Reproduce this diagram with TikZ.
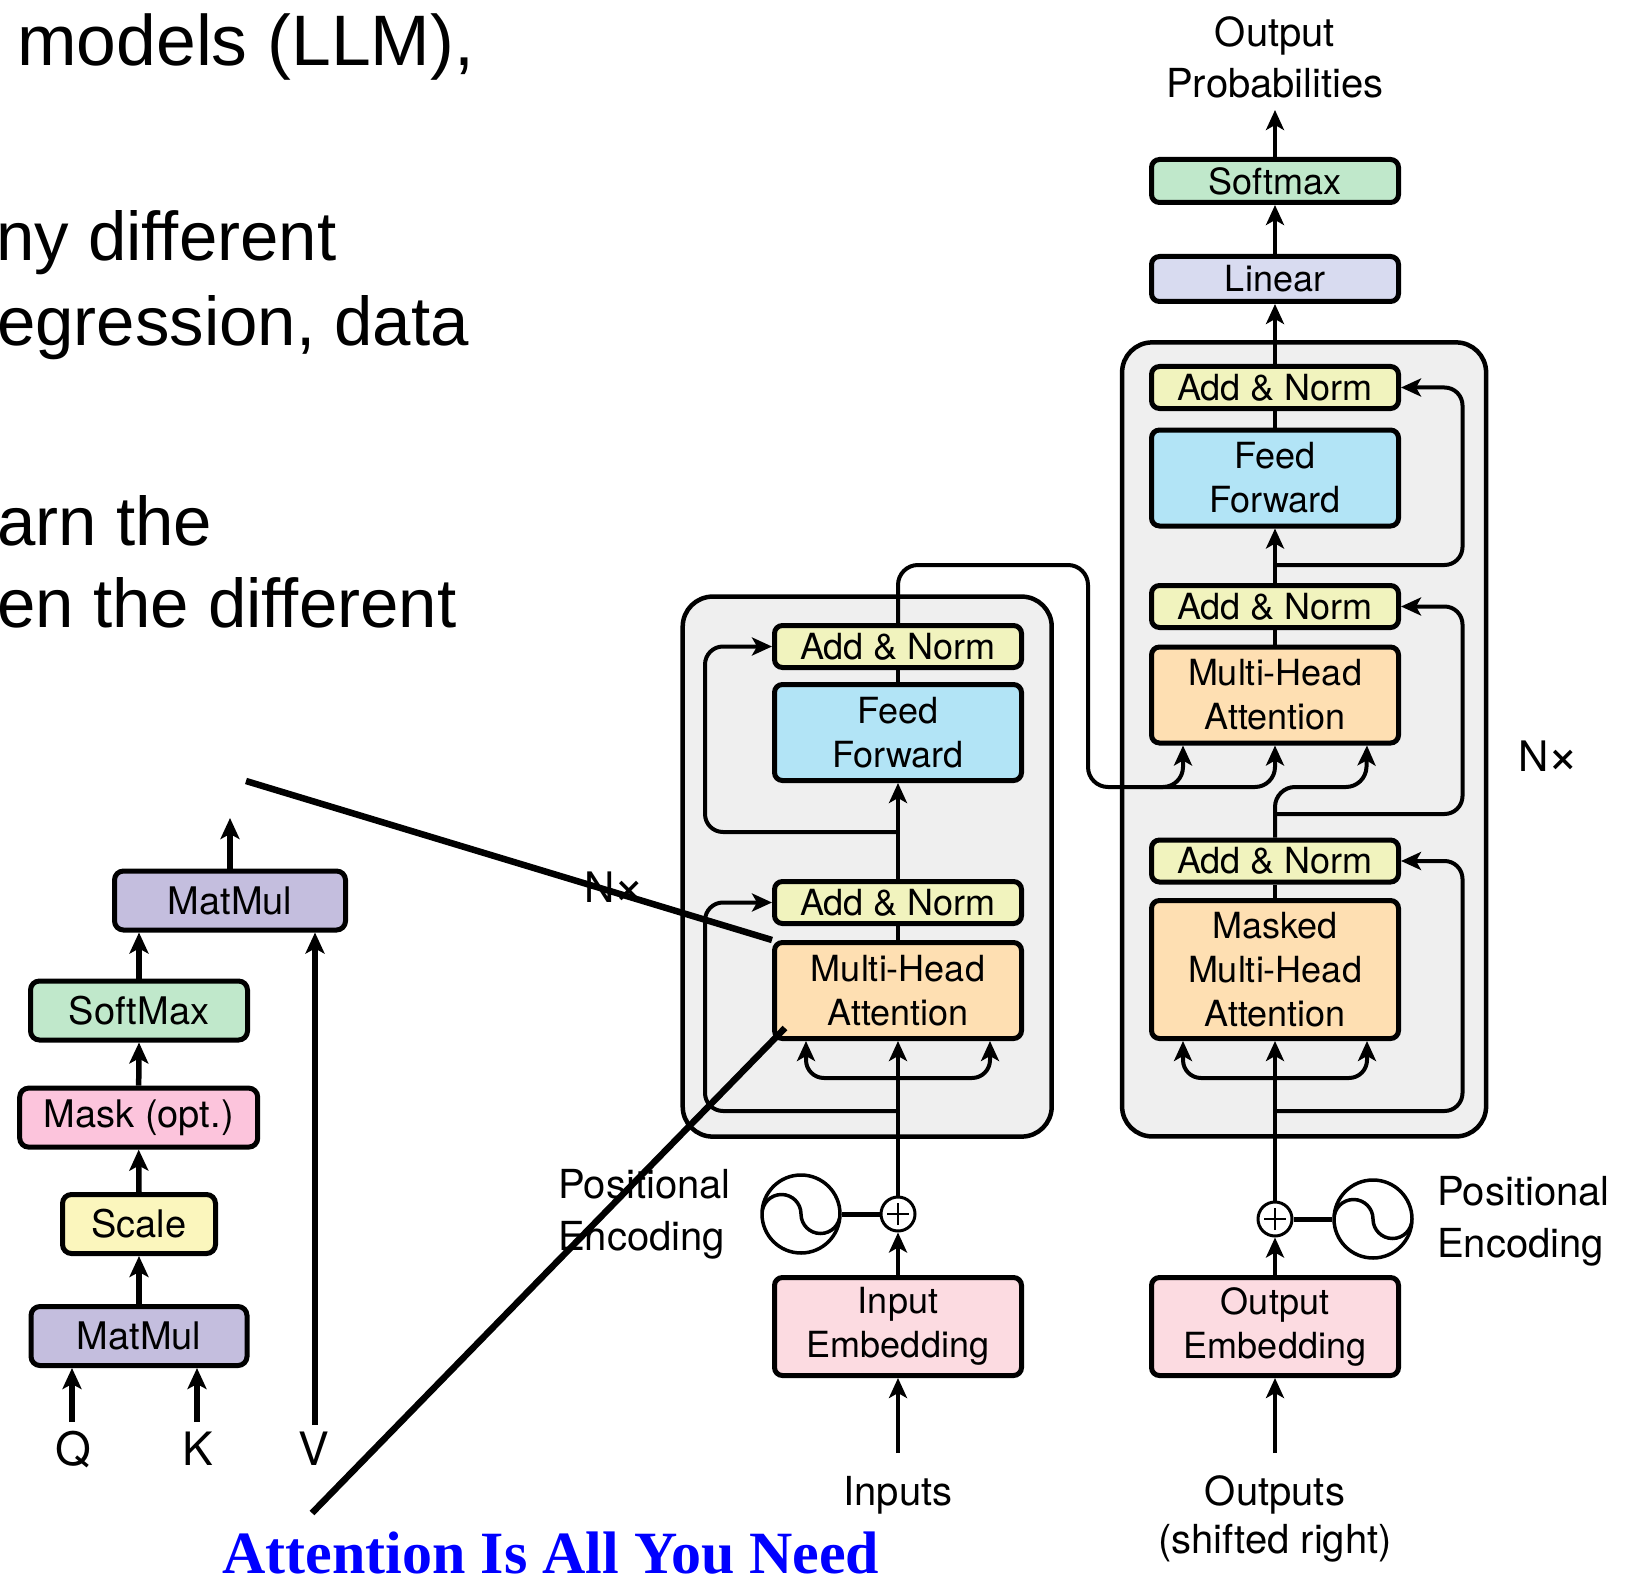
\documentclass[tikz,border=0pt]{standalone}
\usepackage{fontspec}
\setmainfont{Liberation Sans}
\newfontfamily\heros{TeX Gyre Heros}
\newfontfamily\titlefont{Liberation Serif}
\usetikzlibrary{arrows.meta,calc}

\definecolor{anC}{RGB}{241,243,190}
\definecolor{ffC}{RGB}{178,228,246}
\definecolor{mhaC}{RGB}{254,223,178}
\definecolor{embC}{RGB}{252,219,225}
\definecolor{linC}{RGB}{216,219,240}
\definecolor{smC}{RGB}{192,232,203}
\definecolor{stackC}{RGB}{239,239,239}
\definecolor{mmC}{RGB}{196,190,222}
\definecolor{maskC}{RGB}{252,196,220}
\definecolor{scaleC}{RGB}{251,246,189}
\definecolor{titleC}{RGB}{0,0,255}

% repeat-count label: N followed by a multiplication sign
\newcommand{\repN}{N\kern-1pt\raisebox{-2pt}{\fontsize{54}{54}\selectfont ×}}

\tikzset{
  blk/.style={draw, line width=5pt, rounded corners=8pt, inner sep=0pt, align=center,
    minimum width=247pt, font=\heros\fontsize{36}{44}\selectfont},
  anbox/.style={blk, fill=anC, minimum height=42pt},
  ffbox/.style={blk, fill=ffC, minimum height=96pt},
  mhabox/.style={blk, fill=mhaC, minimum height=96pt},
  embbox/.style={blk, fill=embC, minimum height=98pt},
  lbox/.style={draw, line width=5pt, rounded corners=9pt, inner sep=0pt,
    minimum height=59pt, font=\heros\fontsize{38}{44}\selectfont},
  stackbox/.style={draw, line width=4.5pt, rounded corners=30pt, fill=stackC},
  wire/.style={line width=4pt},
  arr/.style={wire, -{Stealth[length=20pt, width=18pt, inset=5pt]}},
  larr/.style={line width=5.5pt, -{Stealth[length=21pt, width=19pt, inset=5pt]}},
  curvy/.style={rounded corners=18pt},
  lbl/.style={font=\heros\fontsize{40}{48}\selectfont, inner sep=0pt},
  slide/.style={font=\fontsize{69}{84}\selectfont, inner sep=0pt, anchor=base west},
  pointer/.style={line width=6.5pt},
  plusnode/.style={circle, draw, line width=3pt, minimum size=34pt, inner sep=0pt, fill=white,
    path picture={\draw[line width=2.5pt]
      ([xshift=-11pt]path picture bounding box.center) -- ([xshift=11pt]path picture bounding box.center)
      ([yshift=-11pt]path picture bounding box.center) -- ([yshift=11pt]path picture bounding box.center);}},
  sinenode/.style={circle, draw, line width=3.5pt, minimum size=78pt, inner sep=0pt, fill=white,
    path picture={\draw[line width=3.5pt]
      ([xshift=-39pt]path picture bounding box.center)
      arc[start angle=180, end angle=0, radius=19.5pt]
      arc[start angle=180, end angle=360, radius=19.5pt];}},
}

\begin{document}
\begin{tikzpicture}[x=1pt, y=-1pt]
\useasboundingbox (0,0) rectangle (1641,1578);

% slide text behind the figure
\node[slide, font=\fontsize{71.5}{84}\selectfont] (t1) at (17,66) {models (LLM),};
\node[slide] (t2) at (-4,261) {ny different};
\node[slide] (t3) at (-3,346) {egression, data};
\node[slide] (t4) at (-3,545) {arn the};
\node[slide] (t5) at (-3,627) {en the different};

% ---------- scaled dot-product attention ----------
\node[lbox, fill=mmC, minimum width=231pt] (mm2) at (230,900.5) {MatMul};
\node[lbox, fill=smC, minimum width=217pt] (lsm) at (139,1010.5) {SoftMax};
\node[lbox, fill=maskC, minimum width=238pt] (mask) at (138.7,1117.6) {Mask (opt.)};
\node[lbox, fill=scaleC, minimum width=153pt] (scale) at (139,1224) {Scale};
\node[lbox, fill=mmC, minimum width=216pt] (mm1) at (139,1336) {MatMul};

\coordinate (attOut) at (230,818);
\coordinate (qIn) at (72,1422);
\coordinate (kIn) at (197,1422);
\coordinate (vIn) at (315,1425);

\draw[larr] (mm1.north) -- (scale.south);
\draw[larr] (scale.north) -- (mask.south);
\draw[larr] (mask.north) -- (lsm.south);
\draw[larr] (lsm.north) -- (lsm.north |- mm2.south);
\draw[larr] (mm2.north) -- (attOut);
\draw[larr] (qIn) -- (qIn |- mm1.south);
\draw[larr] (kIn) -- (kIn |- mm1.south);
\draw[larr] (vIn) -- (vIn |- mm2.south);

\node[anchor=base, inner sep=0pt, font=\heros\fontsize{46}{50}\selectfont] (q) at (73,1465) {Q};
\node[anchor=base, inner sep=0pt, font=\heros\fontsize{46}{50}\selectfont] (k) at (198,1465) {K};
\node[anchor=base, inner sep=0pt, font=\heros\fontsize{46}{50}\selectfont] (v) at (314,1465) {V};

% ---------- encoder / decoder stacks ----------
\node[stackbox, minimum width=369pt, minimum height=540pt] (encStack) at (867.2,866.6) {};
\node[stackbox, minimum width=364pt, minimum height=794pt] (decStack) at (1304.1,739.4) {};

% encoder blocks
\node[anbox] (encAN2) at (898,646.5) {Add \& Norm};
\node[ffbox] (encFF) at (898,732.5) {Feed\\Forward};
\node[anbox] (encAN1) at (898,902.5) {Add \& Norm};
\node[mhabox] (encMHA) at (898,990.5) {Multi-Head\\Attention};
\node[embbox] (inEmb) at (898,1326.5) {Input\\Embedding};

% decoder blocks
\node[blk, fill=smC, minimum height=43pt] (softmax) at (1275,181) {Softmax};
\node[blk, fill=linC, minimum height=45pt] (linear) at (1275,279) {Linear};
\node[anbox] (decAN3) at (1275,387.5) {Add \& Norm};
\node[ffbox] (decFF) at (1275,478) {Feed\\Forward};
\node[anbox] (decAN2) at (1275,606.5) {Add \& Norm};
\node[mhabox] (decMHA) at (1275,695) {Multi-Head\\Attention};
\node[anbox] (decAN1) at (1275,861) {Add \& Norm};
\node[mhabox, minimum height=138pt] (decMMHA) at (1275,969.5) {Masked\\Multi-Head\\Attention};
\node[embbox] (outEmb) at (1275,1326.5) {Output\\Embedding};

% positional encodings
\node[plusnode] (encPlus) at (898,1214) {};
\node[sinenode] (encSine) at (801,1214) {};
\node[plusnode] (decPlus) at (1275,1219) {};
\node[sinenode] (decSine) at (1373,1219) {};
\draw[line width=5pt] (encSine.east) -- (encPlus.west);
\draw[line width=5pt] (decPlus.east) -- (decSine.west);

% ---------- encoder wiring ----------
\coordinate (inTop) at (898,1453);
\coordinate (encFork) at (898,1078);
\coordinate (encRes1) at (898,1111);
\coordinate (encRes2) at (898,832);
\draw[arr] (inTop) -- (inEmb.south);
\draw[arr] (inEmb.north) -- (encPlus.south);
\draw[arr] (encPlus.north) -- (encMHA.south);
\draw[arr, curvy] (encFork) -| ([xshift=-92pt]encMHA.south);
\draw[arr, curvy] (encFork) -| ([xshift=92pt]encMHA.south);
\draw[arr, curvy] (encRes1) -| ($(encAN1.west)+(-67,0)$) -- (encAN1.west);
\draw[wire] (encMHA.north) -- (encAN1.south);
\draw[arr] (encAN1.north) -- (encFF.south);
\draw[arr, curvy] (encRes2) -| ($(encAN2.west)+(-67,0)$) -- (encAN2.west);
\draw[wire] (encFF.north) -- (encAN2.south);

% encoder output into the decoder attention
\coordinate (memTurn) at (1088,565);
\coordinate (memRun) at (1275,787);
\coordinate (memTap) at (1150,787);
\draw[arr, rounded corners=20pt] (encAN2.north) |- (memTurn) |- (memRun) -- (decMHA.south);
\draw[arr, rounded corners=20pt] (memTap) -| ([xshift=-92pt]decMHA.south);

% ---------- decoder wiring ----------
\coordinate (outTop) at (1275,1453);
\coordinate (decFork) at (1275,1078);
\coordinate (decRes1) at (1275,1111);
\coordinate (decRes2) at (1275,814);
\coordinate (decRes3) at (1275,565);
\coordinate (qRun) at (1366,787);
\coordinate (probTop) at (1275,110);
\draw[arr] (outTop) -- (outEmb.south);
\draw[arr] (outEmb.north) -- (decPlus.south);
\draw[arr] (decPlus.north) -- (decMMHA.south);
\draw[arr, curvy] (decFork) -| ([xshift=-92pt]decMMHA.south);
\draw[arr, curvy] (decFork) -| ([xshift=92pt]decMMHA.south);
\draw[arr, curvy] (decRes1) -| ($(decAN1.east)+(61.5,0)$) -- (decAN1.east);
\draw[wire] (decMMHA.north) -- (decAN1.south);
\draw[arr, rounded corners=20pt] (decAN1.north) |- (qRun) -- ([xshift=92pt]decMHA.south);
\draw[arr, curvy] (decRes2) -| ($(decAN2.east)+(61.5,0)$) -- (decAN2.east);
\draw[wire] (decMHA.north) -- (decAN2.south);
\draw[arr] (decAN2.north) -- (decFF.south);
\draw[arr, curvy] (decRes3) -| ($(decAN3.east)+(61.5,0)$) -- (decAN3.east);
\draw[wire] (decFF.north) -- (decAN3.south);
\draw[arr] (decAN3.north) -- (linear.south);
\draw[arr] (linear.north) -- (softmax.south);
\draw[arr] (softmax.north) -- (probTop);

% ---------- labels ----------
\node[lbl, anchor=base] (probA) at (1275,46.7) {Output};
\node[lbl, anchor=base] (probB) at (1275,98) {Probabilities};
\node[lbl, anchor=base, font=\heros\fontsize{42}{48}\selectfont] (encN) at (615,902) {\repN};
\node[lbl, anchor=base, font=\heros\fontsize{42}{48}\selectfont] (decN) at (1549,771) {\repN};
\node[lbl, anchor=base west] (encPosA) at (558,1198) {Positional};
\node[lbl, anchor=base west] (encPosB) at (558,1250) {Encoding};
\node[lbl, anchor=base west] (decPosA) at (1437,1205) {Positional};
\node[lbl, anchor=base west] (decPosB) at (1437,1257) {Encoding};
\node[lbl, anchor=base] (inLbl) at (898,1505) {Inputs};
\node[lbl, anchor=base] (outLblA) at (1275,1505) {Outputs};
\node[lbl, anchor=base] (outLblB) at (1275,1553) {(shifted right)};

% ---------- zoom pointers and caption ----------
\coordinate (ptrA) at (246,781);
\coordinate (ptrB) at (312,1513);
\coordinate (ptrBend) at (785,1028);
\draw[pointer] (ptrA) -- (encMHA.north west);
\draw[pointer] (ptrB) -- (ptrBend);

\node[anchor=base, inner sep=0pt, text=titleC, font=\titlefont\bfseries\fontsize{60}{72}\selectfont]
  (title) at (551,1573) {Attention Is All You Need};
\end{tikzpicture}
\end{document}
